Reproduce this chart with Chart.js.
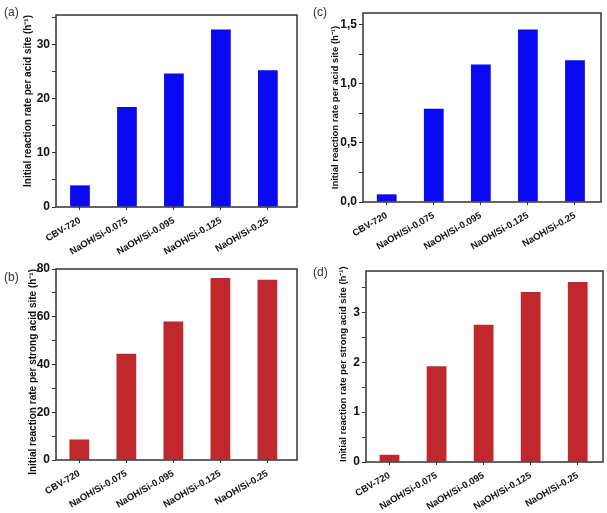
<!DOCTYPE html>
<html lang="en">
<head>
<meta charset="UTF-8">
<title>Initial reaction rates</title>
<script src="https://cdn.jsdelivr.net/npm/chart.js"></script>
<style>
  body { margin: 0; background: #fff; }
  #fig { position: relative; width: 607px; height: 513px; }
  .panel { position: absolute; }
  .tag { position: absolute; font: 12px 'Liberation Sans', Arial, sans-serif; color: #333; }
</style>
</head>
<body>
<div id="fig">
  <canvas id="chartA" class="panel" width="303" height="256" style="left:0;top:0"></canvas>
  <canvas id="chartC" class="panel" width="304" height="256" style="left:303px;top:0"></canvas>
  <canvas id="chartB" class="panel" width="303" height="257" style="left:0;top:256px"></canvas>
  <canvas id="chartD" class="panel" width="304" height="257" style="left:303px;top:256px"></canvas>
  <div class="tag" style="left:4px;top:5px">(a)</div>
  <div class="tag" style="left:313px;top:5px">(c)</div>
  <div class="tag" style="left:4px;top:270px">(b)</div>
  <div class="tag" style="left:313px;top:265px">(d)</div>
</div>

<script>
    // samples on the x axis
    const categories = ['CBV-720', 'NaOH/Si-0.075', 'NaOH/Si-0.095', 'NaOH/Si-0.125', 'NaOH/Si-0.25'];

    // initial reaction rate per acid site (h-1)
    const rateAcidA = [4.0, 18.5, 24.7, 32.8, 25.3];
    const rateAcidC = [0.065, 0.79, 1.165, 1.46, 1.2];

    // initial reaction rate per strong acid site (h-1)
    const rateStrongB = [8.6, 44.5, 58.0, 76.2, 75.5];
    const rateStrongD = [0.145, 1.92, 2.75, 3.41, 3.61];

    const titleAcid = 'Initial reaction rate per acid site (h\u207B\u00B9)';
    const titleStrong = 'Initial reaction rate per strong acid site (h\u207B\u00B9)';

    const blue = '#0909f2';
    const red = '#c0282e';

    Chart.defaults.font.family = "'Liberation Sans', Arial, sans-serif";
    Chart.defaults.font.weight = 'bold';
    Chart.defaults.color = '#111';

    // box around the plot area
    const frame = {
        id: 'frame',
        afterDraw(chart) {
            const { ctx, chartArea: a } = chart;
            ctx.save();
            ctx.strokeStyle = '#333';
            ctx.lineWidth = 1.5;
            ctx.strokeRect(a.left, a.top, a.width, a.height);
            ctx.restore();
        }
    };

    function isStep(v, step) {
        const k = v / step;
        return Math.abs(k - Math.round(k)) < 1e-6;
    }

    function makeChart(id, values, color, o) {
        new Chart(document.getElementById(id), {
            type: 'bar',
            data: {
                datasets: [{
                    data: values.map((v, i) => ({ x: i, y: v })),
                    backgroundColor: color,
                    barPercentage: 0.42,
                    categoryPercentage: 1
                }]
            },
            options: {
                responsive: false,
                animation: false,
                layout: { padding: { top: o.padTop, right: o.padRight, left: 0, bottom: 0 } },
                plugins: { legend: { display: false }, tooltip: { enabled: false } },
                scales: {
                    x: {
                        type: 'linear',
                        offset: false,
                        min: o.xMin,
                        max: o.xMax,
                        border: { display: false },
                        grid: { offset: false, drawOnChartArea: false, tickLength: 3, tickColor: '#333' },
                        ticks: {
                            stepSize: 1,
                            includeBounds: false,
                            autoSkip: false,
                            minRotation: 30,
                            maxRotation: 30,
                            padding: 5,
                            font: { size: 9.5 },
                            callback: v => categories[v]
                        },
                        afterBuildTicks: s => {
                            s.ticks = s.ticks.filter(t => Number.isInteger(t.value) && t.value >= 0 && t.value < categories.length);
                        },
                        afterFit: s => { s.height = o.xHeight; }
                    },
                    y: {
                        min: 0,
                        max: o.yMax,
                        border: { display: false },
                        grid: { drawOnChartArea: false, tickLength: 4, tickColor: '#333' },
                        ticks: {
                            stepSize: o.minorStep,
                            includeBounds: false,
                            autoSkip: false,
                            padding: 2,
                            font: { size: 12 },
                            callback: v => {
                                if (!isStep(v, o.labelStep)) return '';
                                return o.comma ? v.toFixed(1).replace('.', ',') : String(Math.round(v));
                            }
                        },
                        afterBuildTicks: s => {
                            s.ticks = s.ticks.filter(t => isStep(t.value, o.minorStep) && t.value <= o.yMax);
                        },
                        afterFit: s => { s.width = o.yWidth; },
                        title: {
                            display: true,
                            text: o.title,
                            align: o.titleAlign,
                            padding: { top: o.titlePad, bottom: 0 },
                            font: { size: o.titleSize }
                        }
                    }
                }
            },
            plugins: [frame]
        });
    }

    makeChart('chartA', rateAcidA, blue, {
        title: titleAcid, titleAlign: 'end', titlePad: 22, titleSize: 10,
        yMax: 35.5, minorStep: 5, labelStep: 10, comma: false,
        xMin: -0.51, xMax: 4.62, yWidth: 56, xHeight: 49, padTop: 15, padRight: 6
    });

    makeChart('chartC', rateAcidC, blue, {
        title: titleAcid, titleAlign: 'center', titlePad: 27, titleSize: 9.5,
        yMax: 1.6, minorStep: 0.25, labelStep: 0.5, comma: true,
        xMin: -0.504, xMax: 4.553, yWidth: 60, xHeight: 54, padTop: 13, padRight: 6
    });

    makeChart('chartB', rateStrongB, red, {
        title: titleStrong, titleAlign: 'end', titlePad: 27, titleSize: 10,
        yMax: 80, minorStep: 10, labelStep: 20, comma: false,
        xMin: -0.496, xMax: 4.63, yWidth: 56, xHeight: 53, padTop: 13, padRight: 6
    });

    makeChart('chartD', rateStrongD, red, {
        title: titleStrong, titleAlign: 'start', titlePad: 35, titleSize: 9.5,
        yMax: 3.83, minorStep: 0.5, labelStep: 1, comma: false,
        xMin: -0.5, xMax: 4.537, yWidth: 63, xHeight: 51, padTop: 15, padRight: 4
    });
</script>
</body>
</html>
